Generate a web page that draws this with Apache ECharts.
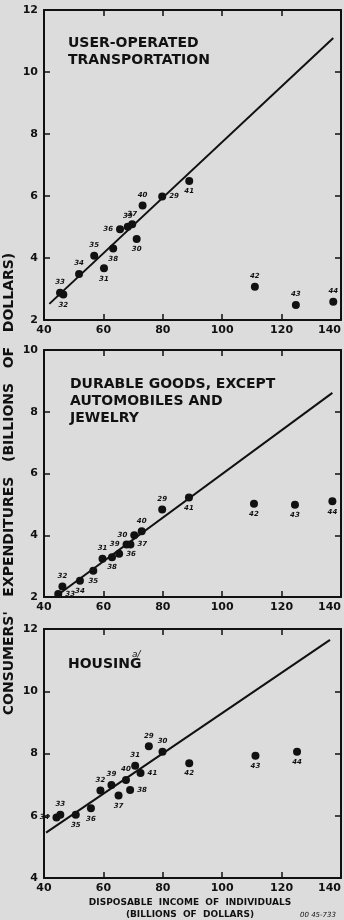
<!DOCTYPE html>
<html>
<head>
<meta charset="utf-8">
<script src="https://cdn.jsdelivr.net/npm/echarts@6/dist/echarts.min.js"></script>
<style>
    html, body {margin: 0; padding: 0; background: #dcdcdc;}
    #chart {width: 344px; height: 920px;}
</style>
</head>
<body>
<div id="chart"></div>
<script>
// income of individuals on x, consumers' expenditure on y (billions of dollars)
var xTicks = [40, 60, 80, 100, 120, 140];

var transportYears = ['33', '32', '34', '35', '31', '38', '36', '39', '37', '30', '40', '29', '41', '42', '43', '44'];
var transportIncome = [45.4, 46.5, 51.8, 56.9, 60.2, 63.3, 65.6, 68.2, 69.7, 71.2, 73.2, 79.8, 88.9, 111.0, 124.8, 137.4];
var transportSpend = [2.88, 2.82, 3.48, 4.07, 3.67, 4.31, 4.93, 5.01, 5.09, 4.61, 5.69, 5.98, 6.48, 3.07, 2.48, 2.59];
var transportLine = [[41.8, 2.52], [137.4, 11.1]];

var durableYears = ['33', '32', '34', '35', '31', '38', '36', '39', '37', '30', '40', '29', '41', '42', '43', '44'];
var durableIncome = [44.8, 46.2, 52.1, 56.6, 59.7, 62.9, 65.3, 67.8, 69.1, 70.4, 72.9, 79.8, 88.8, 110.7, 124.5, 137.1];
var durableSpend = [2.10, 2.34, 2.53, 2.85, 3.24, 3.29, 3.40, 3.70, 3.70, 4.00, 4.13, 4.83, 5.22, 5.02, 4.99, 5.10];
var durableLine = [[43.7, 2.0], [137.1, 8.61]];

var housingYears = ['34', '33', '35', '36', '32', '39', '37', '40', '38', '31', '41', '29', '30', '42', '43', '44'];
var housingIncome = [44.2, 45.5, 50.7, 55.8, 59.0, 62.7, 65.1, 67.6, 69.0, 70.7, 72.5, 75.3, 79.9, 88.9, 111.2, 125.2];
var housingSpend = [5.94, 6.03, 6.03, 6.24, 6.81, 6.99, 6.65, 7.15, 6.83, 7.61, 7.37, 8.23, 8.06, 7.69, 7.93, 8.06];
var housingLine = [[40.7, 5.46], [136.3, 11.65]];

// where each year number sits next to its dot
var transportLabelPos = ['top', 'bottom', 'top', 'top', 'bottom', 'bottom', 'left', 'top', 'top', 'bottom', 'top', 'right', 'bottom', 'top', 'top', 'top'];
var durableLabelPos = ['right', 'top', 'bottom', 'bottom', 'top', 'bottom', 'right', 'left', 'right', 'left', 'top', 'top', 'bottom', 'bottom', 'bottom', 'bottom'];
var housingLabelPos = ['left', 'top', 'bottom', 'bottom', 'top', 'top', 'bottom', 'top', 'right', 'top', 'right', 'top', 'top', 'bottom', 'bottom', 'bottom'];

var INK = '#111111';
var FONT = 'DejaVu Sans';

function pointsOf(income, spend, years, pos) {
    var out = [];
    for (var i = 0; i < income.length; i++) {
        out.push({
            value: [income[i], spend[i]],
            name: years[i],
            label: {position: pos[i]}
        });
    }
    return out;
}

function xAxisFor(idx, pos) {
    return {
        type: 'value',
        gridIndex: idx,
        position: pos,
        min: xTicks[0],
        max: xTicks[xTicks.length - 1],
        interval: 20,
        axisLine: {show: true, onZero: false, lineStyle: {color: INK, width: 2}},
        axisTick: {show: true, inside: true, length: 6, lineStyle: {color: INK, width: 1.5}},
        splitLine: {show: false},
        axisLabel: {
            show: pos === 'bottom',
            color: INK,
            fontFamily: FONT,
            fontSize: 11,
            fontWeight: 'bold',
            margin: 5,
            alignMaxLabel: 'right'
        }
    };
}

function yAxisFor(idx, pos, min, max) {
    return {
        type: 'value',
        gridIndex: idx,
        position: pos,
        min: min,
        max: max,
        interval: 2,
        axisLine: {show: true, onZero: false, lineStyle: {color: INK, width: 2}},
        axisTick: {show: true, inside: true, length: 6, lineStyle: {color: INK, width: 1.5}},
        splitLine: {show: false},
        axisLabel: {
            show: pos === 'left',
            color: INK,
            fontFamily: FONT,
            fontSize: 11,
            fontWeight: 'bold',
            margin: 6
        }
    };
}

function scatterFor(idx, data) {
    return {
        type: 'scatter',
        xAxisIndex: idx * 2,
        yAxisIndex: idx * 2,
        symbolSize: 8,
        itemStyle: {color: INK, opacity: 1},
        data: data,
        label: {
            show: true,
            formatter: '{b}',
            color: INK,
            fontFamily: FONT,
            fontSize: 7,
            fontStyle: 'italic',
            fontWeight: 'bold',
            distance: 3
        },
        z: 3
    };
}

function lineFor(idx, data) {
    return {
        type: 'line',
        xAxisIndex: idx * 2,
        yAxisIndex: idx * 2,
        data: data,
        symbol: 'none',
        lineStyle: {color: INK, width: 2},
        silent: true,
        z: 2
    };
}

var titleStyle = {
    color: INK,
    fontFamily: FONT,
    fontSize: 14,
    fontWeight: 'bold',
    lineHeight: 17
};

var option = {
    backgroundColor: '#dcdcdc',
    animation: false,
    title: [
        {text: 'USER-OPERATED\nTRANSPORTATION', left: 63, top: 30, textStyle: titleStyle},
        {text: 'DURABLE GOODS, EXCEPT\nAUTOMOBILES AND\nJEWELRY', left: 65, top: 371, textStyle: titleStyle},
        {text: 'HOUSING', left: 63, top: 651, textStyle: titleStyle}
    ],
    grid: [
        {left: 44, top: 10, width: 297, height: 310, outerBoundsMode: 'none'},
        {left: 44, top: 350, width: 297, height: 247, outerBoundsMode: 'none'},
        {left: 44, top: 629, width: 297, height: 249, outerBoundsMode: 'none'}
    ],
    xAxis: [
        xAxisFor(0, 'bottom'), xAxisFor(0, 'top'),
        xAxisFor(1, 'bottom'), xAxisFor(1, 'top'),
        xAxisFor(2, 'bottom'), xAxisFor(2, 'top')
    ],
    yAxis: [
        yAxisFor(0, 'left', 2, 12), yAxisFor(0, 'right', 2, 12),
        yAxisFor(1, 'left', 2, 10), yAxisFor(1, 'right', 2, 10),
        yAxisFor(2, 'left', 4, 12), yAxisFor(2, 'right', 4, 12)
    ],
    series: [
        lineFor(0, transportLine),
        scatterFor(0, pointsOf(transportIncome, transportSpend, transportYears, transportLabelPos)),
        lineFor(1, durableLine),
        scatterFor(1, pointsOf(durableIncome, durableSpend, durableYears, durableLabelPos)),
        lineFor(2, housingLine),
        scatterFor(2, pointsOf(housingIncome, housingSpend, housingYears, housingLabelPos))
    ],
    graphic: [
        {
            type: 'text',
            x: 9,
            y: 484,
            rotation: Math.PI / 2,
            style: {
                text: "CONSUMERS'   EXPENDITURES   (BILLIONS   OF   DOLLARS)",
                font: 'bold 14px "DejaVu Sans"',
                fill: INK,
                align: 'center',
                verticalAlign: 'middle'
            }
        },
        {
            type: 'text',
            x: 132,
            y: 650,
            style: {text: 'a/', font: 'italic 9px "DejaVu Sans"', fill: INK}
        },
        {
            type: 'text',
            x: 190,
            y: 903,
            style: {
                text: 'DISPOSABLE  INCOME  OF  INDIVIDUALS',
                font: 'bold 9px "DejaVu Sans"',
                fill: INK,
                align: 'center',
                verticalAlign: 'middle'
            }
        },
        {
            type: 'text',
            x: 190,
            y: 915,
            style: {
                text: '(BILLIONS  OF  DOLLARS)',
                font: 'bold 9px "DejaVu Sans"',
                fill: INK,
                align: 'center',
                verticalAlign: 'middle'
            }
        },
        {
            type: 'text',
            x: 318,
            y: 915,
            style: {
                text: '00 45-733',
                font: 'italic 7px "DejaVu Sans"',
                fill: INK,
                align: 'center',
                verticalAlign: 'middle'
            }
        }
    ]
};

var chart = echarts.init(document.getElementById('chart'));
chart.setOption(option);
</script>
</body>
</html>
